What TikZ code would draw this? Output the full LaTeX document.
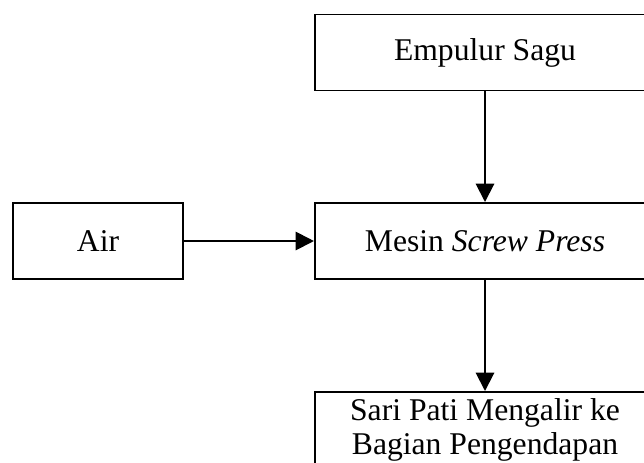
\documentclass[tikz,border=0pt]{standalone}
\usepackage{fontspec}
\setmainfont{Liberation Serif}
\usetikzlibrary{arrows.meta, positioning}
\tikzset{box/.style = {draw, line width=1.4pt, minimum width=8.5cm, minimum height=1.9cm,
    align=center, font=\fontsize{22.5}{24}\selectfont}}
\tikzset{flow/.style = {line width=1.4pt, -{Triangle[length=13pt, width=13pt]}}}

\begin{document}
\begin{tikzpicture}[x=0.025cm, y=-0.025cm]
\useasboundingbox (0,0) rectangle (644,462);
\clip (0,0) rectangle (644,462);
\node[box] (sagu) at (485,52.5) {Empulur Sagu};
\node[box] (press) at (485,241) {Mesin \textit{Screw Press}};
\node[box, minimum width=4.25cm] (air) at (98,241) {Air};
\node[box] (pati) at (485,430) {Sari Pati Mengalir ke\\Bagian Pengendapan};
\draw[flow] (sagu) -- (press);
\draw[flow] (air) -- (press);
\draw[flow] (press) -- (pati);
\end{tikzpicture}
\end{document}
